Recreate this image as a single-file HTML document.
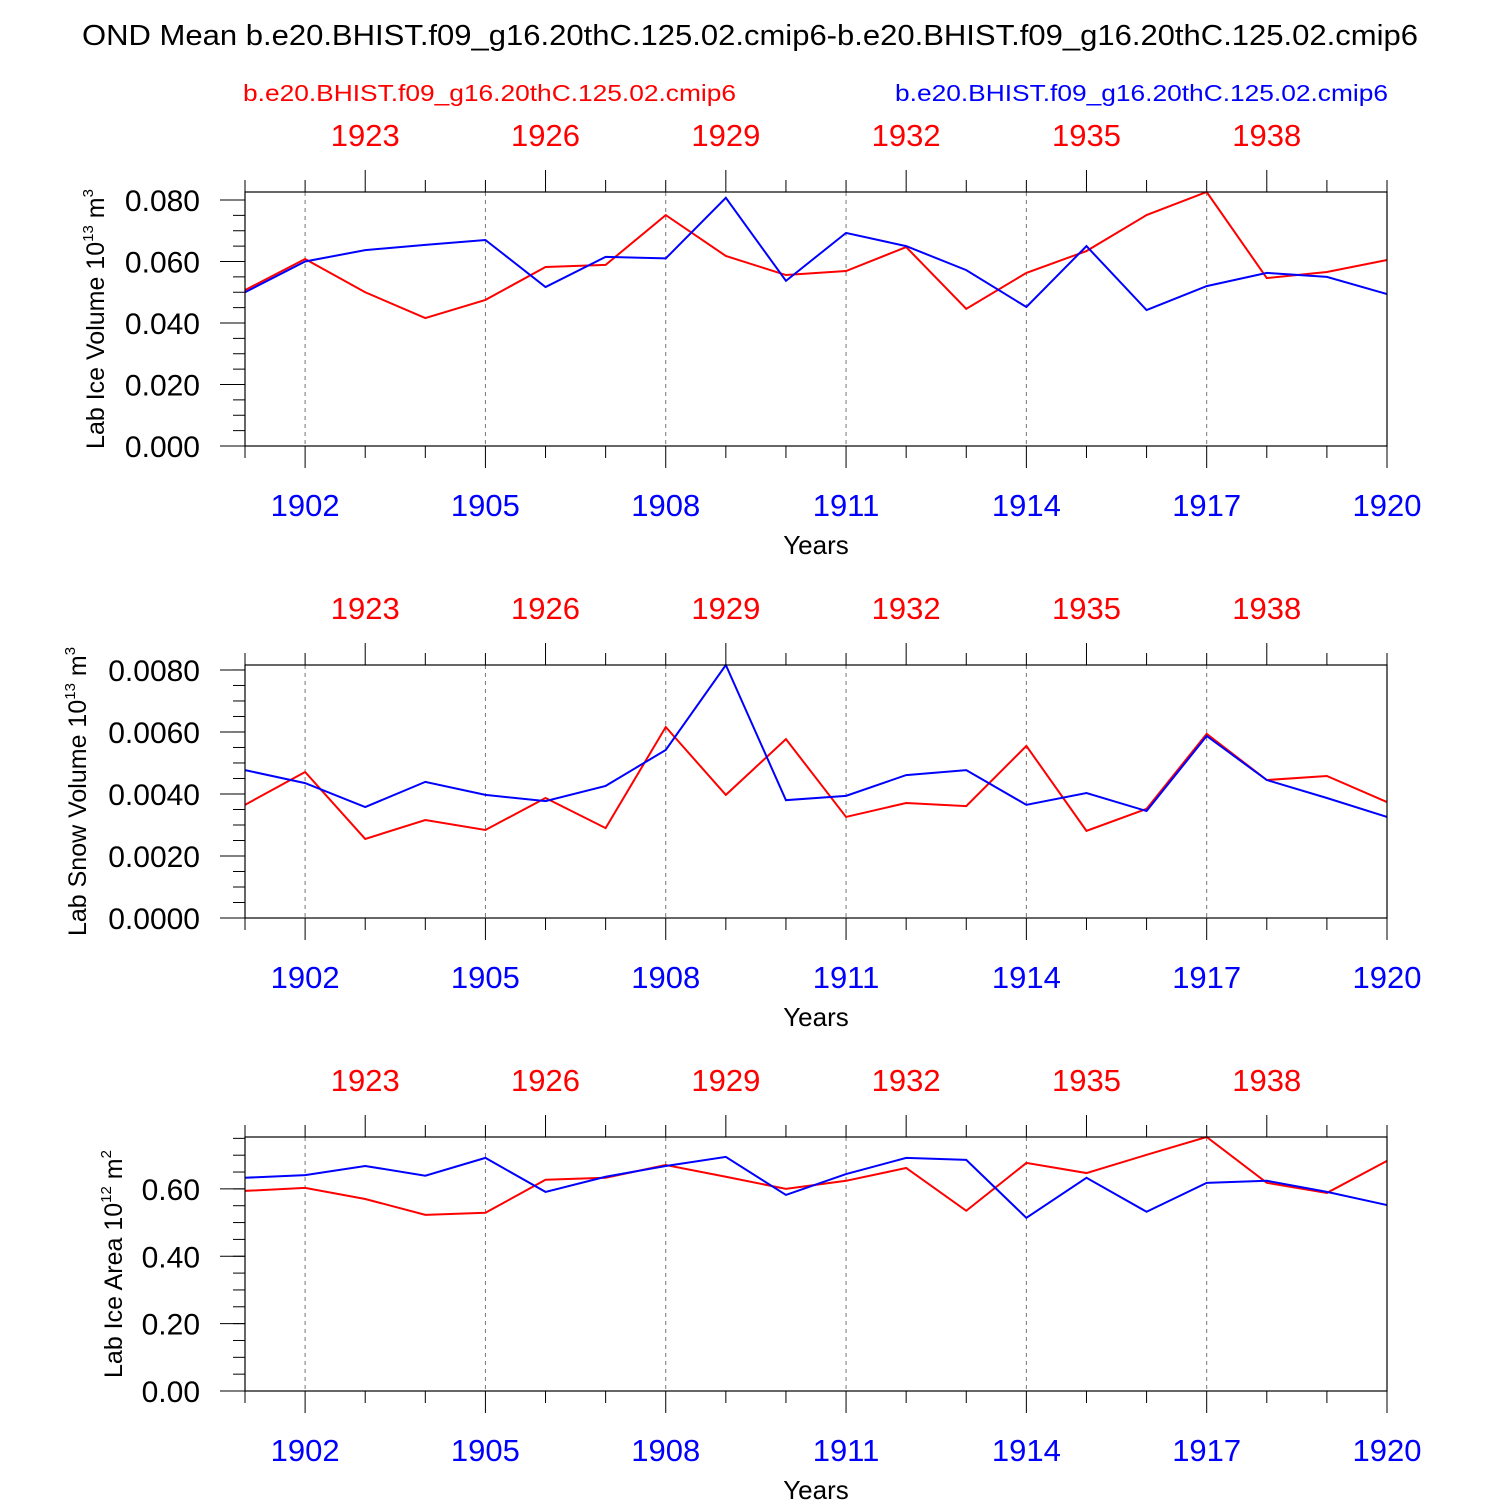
<!DOCTYPE html>
<html><head><meta charset="utf-8"><style>
body{margin:0;background:#fff}
svg text{font-family:"Liberation Sans",Arial,sans-serif}
</style></head><body>
<svg id="chart" width="1500" height="1500" xmlns="http://www.w3.org/2000/svg">
<text x="82" y="45" font-size="29" textLength="1336" lengthAdjust="spacingAndGlyphs">OND Mean b.e20.BHIST.f09_g16.20thC.125.02.cmip6-b.e20.BHIST.f09_g16.20thC.125.02.cmip6</text>
<text x="243" y="101" font-size="23" fill="#f00" textLength="493" lengthAdjust="spacingAndGlyphs">b.e20.BHIST.f09_g16.20thC.125.02.cmip6</text>
<text x="895" y="101" font-size="23" fill="#00f" textLength="493" lengthAdjust="spacingAndGlyphs">b.e20.BHIST.f09_g16.20thC.125.02.cmip6</text>
</svg>
<script>
const years=[1901,1902,1903,1904,1905,1906,1907,1908,1909,1910,1911,1912,1913,1914,1915,1916,1917,1918,1919,1920];
const iceVolBlue=[0.050,0.060,0.0637,0.0654,0.067,0.0517,0.0615,0.061,0.0807,0.0537,0.0693,0.065,0.0572,0.0452,0.065,0.0442,0.052,0.0563,0.055,0.0494];
const iceVolRed=[0.0507,0.0608,0.050,0.0416,0.0475,0.0582,0.0589,0.0751,0.0618,0.0556,0.0569,0.0647,0.0446,0.0563,0.0634,0.0751,0.0826,0.0546,0.0566,0.0605];
const snowBlue=[0.00477,0.00435,0.00358,0.00439,0.00397,0.00377,0.00426,0.00542,0.00816,0.0038,0.00394,0.00461,0.00477,0.00365,0.00403,0.00345,0.00587,0.00445,0.00387,0.00326];
const snowRed=[0.00365,0.00471,0.00255,0.00316,0.00284,0.00387,0.0029,0.00616,0.00397,0.00577,0.00326,0.00371,0.00361,0.00555,0.00281,0.00352,0.00594,0.00445,0.00458,0.00374];
const areaBlue=[0.633,0.641,0.668,0.639,0.692,0.591,0.636,0.668,0.695,0.582,0.644,0.692,0.686,0.514,0.633,0.532,0.618,0.624,0.591,0.552];
const areaRed=[0.594,0.603,0.570,0.523,0.529,0.627,0.633,0.671,0.636,0.6,0.624,0.662,0.535,0.677,0.647,0.701,0.754,0.618,0.588,0.683];
const iceVolTicks=["0.000","0.020","0.040","0.060","0.080"];
const snowTicks=["0.0000","0.0020","0.0040","0.0060","0.0080"];
const areaTicks=["0.00","0.20","0.40","0.60"];
const bottomYearLabels=[1902,1905,1908,1911,1914,1917,1920];
const topYearLabels=[1923,1926,1929,1932,1935,1938];

const svg=document.getElementById('chart');
const NS='http://www.w3.org/2000/svg';
function mk(tag,attrs,parent){const e=document.createElementNS(NS,tag);for(const k in attrs)e.setAttribute(k,attrs[k]);(parent||svg).appendChild(e);return e;}
const X0=245,X1=1387;
function xs(yr){return X0+(yr-1901)*(X1-X0)/19;}

function panel(name,top,bottom,ymax,step,minorStep,ticks,blue,red,titleParts,titleX){
  const g=mk('g',{});
  
  
  const ys=v=>bottom-(v/ymax)*(bottom-top);
  bottomYearLabels.forEach(yr=>{if(yr<1920){const l=mk('line',{x1:xs(yr),x2:xs(yr),y1:top,y2:bottom,stroke:'#777','stroke-width':1,'stroke-dasharray':'4,4'},g);
  
  }});
  years.forEach(yr=>{const major=(yr-1902)%3===0;const x=xs(yr);
    mk('line',{x1:x,x2:x,y1:bottom,y2:bottom+(major?22:12),stroke:'#000','stroke-width':1},g);
    mk('line',{x1:x,x2:x,y1:top,y2:top-(((yr-1903)%3===0)?22:12),stroke:'#000','stroke-width':1},g);});
  bottomYearLabels.forEach(yr=>{const t=mk('text',{x:xs(yr),y:bottom+70,'font-size':31,fill:'#00f','text-anchor':'middle'},g);t.textContent=yr;
    
    });
  topYearLabels.forEach(yr=>{const t=mk('text',{x:xs(yr-20),y:top-46,'font-size':31,fill:'#f00','text-anchor':'middle'},g);t.textContent=yr;
    
    });
  const xt=mk('text',{x:816,y:bottom+108,'font-size':26,'text-anchor':'middle'},g);xt.textContent='Years';
  
  
  for(let v=0;v<=ymax+1e-9;v+=minorStep){mk('line',{x1:X0,x2:X0-12,y1:ys(v),y2:ys(v),stroke:'#000','stroke-width':1},g);}
  ticks.forEach((lab,i)=>{const y=ys(i*step);mk('line',{x1:X0,x2:X0-25,y1:y,y2:y,stroke:'#000','stroke-width':1},g);
    const t=mk('text',{x:200,y:y+11,'font-size':30,'text-anchor':'end'},g);t.textContent=lab;
    
    });
  const cy=(top+bottom)/2;
  const yt=mk('text',{x:titleX,y:cy,'font-size':25,'text-anchor':'middle',transform:`rotate(-90 ${titleX} ${cy})`},g);
  
  
  yt.innerHTML=titleParts;
  const pts=arr=>arr.map((v,i)=>xs(years[i])+','+ys(v)).join(' ');
  const lr=mk('polyline',{points:pts(red),fill:'none',stroke:'#f00','stroke-width':2},g);
  
  
  const lb=mk('polyline',{points:pts(blue),fill:'none',stroke:'#00f','stroke-width':2},g);
  
  
  const box=mk('rect',{x:X0,y:top,width:X1-X0,height:bottom-top,fill:'none',stroke:'#000','stroke-width':1.2},g);
  
  
}
const sup=(a,b)=>`${a} 10<tspan dy="-11" font-size="15">${b}</tspan><tspan dy="11"> m</tspan>`;
panel('ice-volume',192,446,0.0826,0.02,0.005,iceVolTicks,iceVolBlue,iceVolRed,sup('Lab Ice Volume','13')+'<tspan dy="-11" font-size="15">3</tspan>',104);
panel('snow-volume',665,918,0.00816,0.002,0.0005,snowTicks,snowBlue,snowRed,sup('Lab Snow Volume','13')+'<tspan dy="-11" font-size="15">3</tspan>',86);
panel('ice-area',1137,1391,0.754,0.2,0.05,areaTicks,areaBlue,areaRed,sup('Lab Ice Area','12')+'<tspan dy="-11" font-size="15">2</tspan>',122);
</script>
</body></html>
